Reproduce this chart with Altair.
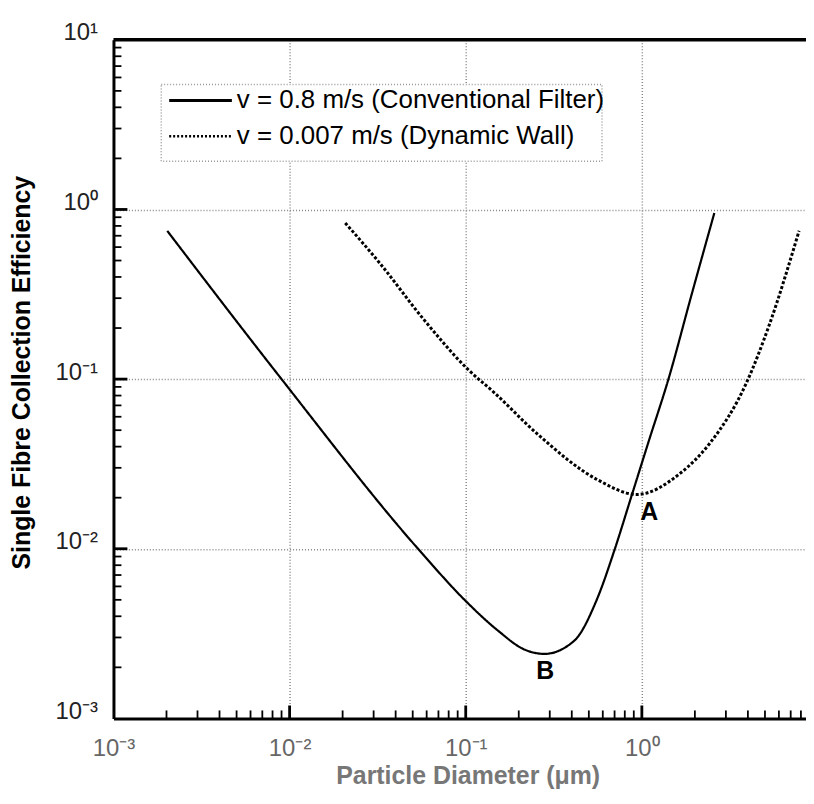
import altair as alt
import pandas as pd

# ---- data ----
conv_label = "v = 0.8 m/s (Conventional Filter)"
dyn_label = "v = 0.007 m/s (Dynamic Wall)"

conv_d = [0.00202, 0.009, 0.0536, 0.1, 0.152, 0.215, 0.279,
          0.413, 0.557, 0.703, 0.879, 1.096, 1.42, 1.91, 2.58]
conv_e = [0.748, 0.1, 0.01, 0.00492, 0.0033, 0.00255, 0.0024,
          0.00287, 0.00506, 0.01, 0.0209, 0.0433, 0.101, 0.311, 0.954]

dyn_d = [0.0207, 0.0327, 0.0571, 0.1026, 0.146, 0.255, 0.557, 0.937, 1.64, 2.42, 3.92, 5.28, 7.81]
dyn_e = [0.833, 0.479, 0.228, 0.1145, 0.0828, 0.0475, 0.0256, 0.0209, 0.0277, 0.0416, 0.0948, 0.2075, 0.748]

ann_d = [1.10, 0.283]
ann_e = [0.0164, 0.00189]
ann_t = ["A", "B"]

decades_x = [0.001, 0.01, 0.1, 1, 10]
decades_y = [0.001, 0.01, 0.1, 1, 10]
minor_mult = [2, 3, 4, 5, 6, 7, 8, 9]
minor_base = [0.001, 0.01, 0.1, 1]

X_MAX = 8.55
W, H = 696, 682
FONT = "Liberation Sans"

lines = pd.DataFrame(
    {"d": conv_d + dyn_d,
     "e": conv_e + dyn_e,
     "series": [conv_label] * len(conv_d) + [dyn_label] * len(dyn_d)}
)
ann = pd.DataFrame({"d": ann_d, "e": ann_e, "t": ann_t})
minor_y = pd.DataFrame({"e": [m * b for b in minor_base for m in minor_mult]})
minor_x = pd.DataFrame({"d": [m * b for b in minor_base for m in minor_mult if m * b < X_MAX]})
major_y = pd.DataFrame({"e": [0.01, 0.1, 1]})
major_x = pd.DataFrame({"d": [0.01, 0.1, 1]})
leg_conv = pd.DataFrame({"series": [conv_label]})
leg_dyn = pd.DataFrame({"series": [dyn_label]})

xs = alt.Scale(type="log", domain=[0.001, X_MAX])
ys = alt.Scale(type="log", domain=[0.001, 10])

lab = ("datum.value < 0.005 ? '10⁻³' : datum.value < 0.05 ? '10⁻²' : "
       "datum.value < 0.5 ? '10⁻¹' : datum.value < 5 ? '10⁰' : '10¹'")

xaxis = alt.Axis(values=decades_x, labelExpr=lab, ticks=False, labelFontSize=24,
                 labelFont=FONT, labelColor="#666", labelPadding=37,
                 labelBaseline="alphabetic", labelFlush=False, labelOverlap=False,
                 domainColor="black", domainWidth=3, grid=True, gridColor="#888",
                 gridDash=[1, 2], gridWidth=1.5,
                 title="Particle Diameter (μm)", titleFontSize=25, titleFont=FONT,
                 titleFontWeight="bold", titleColor="#777", titlePadding=3, titleX=356)
yaxis = alt.Axis(values=decades_y, labelExpr=lab, ticks=False, labelFontSize=24,
                 labelFont=FONT, labelColor="#222", labelPadding=16,
                 labelBaseline="alphabetic", labelFlush=False, labelOverlap=False,
                 domainColor="black", domainWidth=3, grid=True, gridColor="#888",
                 gridDash=[1, 2], gridWidth=1.5,
                 title="Single Fibre Collection Efficiency", titleFontSize=25,
                 titleFont=FONT, titleFontWeight="bold", titleColor="black",
                 titleX=-92, titleY=334, titleAlign="center", titleBaseline="middle")

dash_scale = alt.Scale(domain=[conv_label, dyn_label], range=[[1, 0], [3, 2]])
width_scale = alt.Scale(domain=[conv_label, dyn_label], range=[2.2, 3])

XN = lambda: alt.X("d:Q", scale=xs, axis=None)
YN = lambda: alt.Y("e:Q", scale=ys, axis=None)

base_lines = alt.Chart(lines).mark_line(color="black", clip=True, interpolate="monotone").encode(
    x=alt.X("d:Q", scale=xs, axis=xaxis),
    y=alt.Y("e:Q", scale=ys, axis=yaxis),
    strokeDash=alt.StrokeDash("series:N", scale=dash_scale, legend=None),
    strokeWidth=alt.StrokeWidth("series:N", scale=width_scale, legend=None),
)

texts = alt.Chart(ann).mark_text(fontSize=25, fontWeight="bold", font=FONT,
                                 color="black", align="center", baseline="middle").encode(
    x=XN(), y=YN(), text="t:N")

# inward ticks as short rules from the plot edges
ty_minor = alt.Chart(minor_y).mark_rule(color="black", strokeWidth=1.8).encode(
    y=YN(), x=alt.value(0), x2=alt.value(8))
ty_major = alt.Chart(major_y).mark_rule(color="black", strokeWidth=2.8).encode(
    y=YN(), x=alt.value(0), x2=alt.value(14))
tx_minor = alt.Chart(minor_x).mark_rule(color="black", strokeWidth=1.8).encode(
    x=XN(), y=alt.value(H), y2=alt.value(H - 8))
tx_major = alt.Chart(major_x).mark_rule(color="black", strokeWidth=2.8).encode(
    x=XN(), y=alt.value(H), y2=alt.value(H - 13))

top = alt.Chart(leg_conv).mark_rule(color="black", strokeWidth=3.5).encode(
    y=alt.value(0), x=alt.value(0), x2=alt.value(W))

# legend box drawn by hand (dotted frame, line samples, labels)
leg_box = alt.Chart(leg_conv).mark_rect(fill="white", stroke="#999", strokeWidth=1.5,
                                        strokeDash=[1, 2]).encode(
    x=alt.value(48), x2=alt.value(491), y=alt.value(45), y2=alt.value(122))
leg_line1 = alt.Chart(leg_conv).mark_rule(color="black", strokeWidth=3).encode(
    x=alt.value(56), x2=alt.value(119), y=alt.value(61))
leg_line2 = alt.Chart(leg_dyn).mark_rule(color="black", strokeWidth=2.5, strokeDash=[2, 2]).encode(
    x=alt.value(56), x2=alt.value(119), y=alt.value(97))
leg_text1 = alt.Chart(leg_conv).mark_text(fontSize=26, font=FONT, color="black", align="left",
                                          baseline="middle").encode(
    x=alt.value(124), y=alt.value(61), text="series:N")
leg_text2 = alt.Chart(leg_dyn).mark_text(fontSize=26, font=FONT, color="black", align="left",
                                         baseline="middle").encode(
    x=alt.value(124), y=alt.value(97), text="series:N")

chart = alt.layer(
    base_lines, texts, ty_minor, ty_major, tx_minor, tx_major, top,
    leg_box, leg_line1, leg_line2, leg_text1, leg_text2,
).resolve_axis(x="independent", y="independent").properties(
    width=W, height=H,
    padding={"left": 106, "top": 30, "right": 0, "bottom": 76},
    autosize=alt.AutoSizeParams(type="none"),
).configure_view(stroke=None)

chart.save("out.html", embed_options={"renderer": "svg", "actions": False})
